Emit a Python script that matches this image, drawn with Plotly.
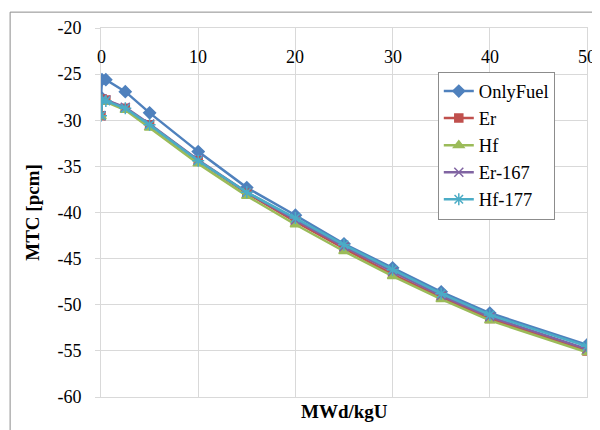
import plotly.graph_objects as go

# MTC vs burnup, one series per absorber option
burnup = [0, 0.1, 0.5, 2.5, 5, 10, 15, 20, 25, 30, 35, 40, 50]

only_fuel = [-27.5, -25.6, -25.6, -26.9, -29.2, -33.4, -37.3, -40.3, -43.4, -46.0, -48.6, -50.9, -54.35]
er = [-29.5, -27.7, -27.8, -28.7, -30.5, -34.4, -37.9, -41.0, -43.9, -46.7, -49.2, -51.5, -55.0]
hf = [-29.6, -27.9, -28.0, -28.9, -30.8, -34.7, -38.2, -41.3, -44.2, -46.9, -49.4, -51.7, -55.15]
er167 = [-29.5, -27.7, -27.8, -28.6, -30.4, -34.3, -37.8, -40.8, -43.7, -46.4, -49.0, -51.3, -54.8]
hf177 = [-29.5, -27.8, -27.9, -28.7, -30.5, -34.4, -37.8, -40.6, -43.5, -46.2, -48.8, -51.1, -54.5]

x_ticks = [0, 10, 20, 30, 40, 50]
y_ticks = [-20, -25, -30, -35, -40, -45, -50, -55, -60]
y_tick_text = ['-20', '-25', '-30', '-35', '-40', '-45', '-50', '-55', '-60']

names = ['OnlyFuel', 'Er', 'Hf', 'Er-167', 'Hf-177']
series = [only_fuel, er, hf, er167, hf177]
colors = ['#4F81BD', '#C0504D', '#9BBB59', '#8064A2', '#4BACC6']
symbols = ['diamond', 'square', 'triangle-up', 'x-thin-open', 'asterisk-open']
sizes = [9, 8, 9, 9, 10]

fig = go.Figure()
for name, vals, c, s, sz in zip(names, series, colors, symbols, sizes):
    fig.add_trace(go.Scatter(
        x=burnup, y=vals, name=name, mode='lines+markers',
        line=dict(color=c, width=2.5),
        marker=dict(symbol=s, size=sz, color=c, line=dict(color=c, width=1.5)),
    ))

font = 'Liberation Serif, Times New Roman, serif'
grid = '#d9d9d9'

# x labels sit just under the top edge, as when the axis crosses at y=0
anns = [dict(x=v, y=1, xref='x', yref='paper', text=str(v), showarrow=False,
             yanchor='top', yshift=-17, font=dict(size=18)) for v in x_ticks]
anns.append(dict(x=0.5, y=0, xref='paper', yref='paper', text='<b>MWd/kgU</b>',
                 showarrow=False, yanchor='middle', yshift=-14, font=dict(size=19)))

# page body adds an 8px margin, so the figure is a bit smaller than the window
fig.update_layout(
    width=592, height=422,
    margin=dict(l=93, r=13, t=20, b=33),
    paper_bgcolor='white', plot_bgcolor='white',
    font=dict(family=font, size=18, color='black'),
    showlegend=True,
    legend=dict(x=0.693, y=0.882, xanchor='left', yanchor='top',
                bgcolor='white', bordercolor='#8c8c8c', borderwidth=1,
                font=dict(size=18.5)),
    annotations=anns,
    shapes=[dict(type='rect', xref='paper', yref='paper',
                 x0=-0.187, x1=1.05, y0=-0.12, y1=1.043,
                 line=dict(color='#8c8c8c', width=1), layer='below')],
)

fig.update_xaxes(
    range=[0, 50], tickvals=x_ticks, showticklabels=False, automargin=False,
    showgrid=True, gridcolor=grid, gridwidth=1,
    showline=True, linecolor=grid, mirror=True, zeroline=False, ticks='',
)
fig.update_yaxes(
    range=[-60, -20], tickvals=y_ticks, ticktext=y_tick_text, automargin=False,
    showgrid=True, gridcolor=grid, gridwidth=1,
    showline=True, linecolor=grid, mirror=True, zeroline=False,
    ticks='outside', ticklen=5, tickcolor=grid, ticklabelstandoff=10,
    tickfont=dict(size=18),
    title=dict(text='<b>MTC [pcm]</b>', font=dict(size=19), standoff=12),
)

fig.write_html('out.html')
